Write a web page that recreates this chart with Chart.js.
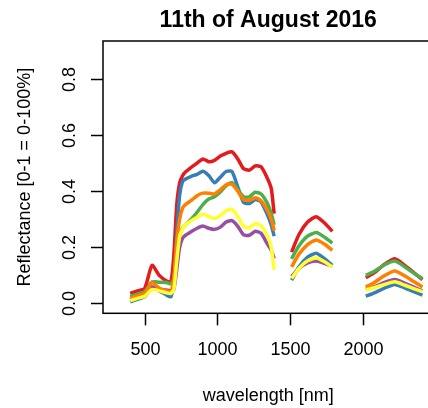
<!DOCTYPE html>
<html>
<head>
<meta charset="utf-8">
<script src="https://cdn.jsdelivr.net/npm/chart.js@4"></script>
<style>
  html, body { margin: 0; padding: 0; background: #fff; overflow: hidden; }
  canvas { display: block; }
</style>
</head>
<body>
<canvas id="chart" width="460" height="408"></canvas>
<script>
// wavelengths [nm]; 1450 and 1900 are the water-band gaps (null values)
const wavelengths = [400, 450, 500, 550, 600, 650, 680, 700, 720, 740, 760, 780, 820, 860, 900, 940, 980, 1020, 1060, 1100, 1140, 1180, 1220, 1260, 1300, 1340, 1370, 1390,
  1450,
  1510, 1560, 1620, 1680, 1740, 1790,
  1900,
  2020, 2080, 2150, 2220, 2290, 2350, 2410]

const red = [0.036, 0.045, 0.054, 0.136, 0.10, 0.08, 0.077, 0.17, 0.35, 0.43, 0.455, 0.468, 0.485, 0.50, 0.515, 0.505, 0.51, 0.525, 0.535, 0.54, 0.515, 0.48, 0.475, 0.49, 0.487, 0.45, 0.41, 0.32,
  null,
  0.183, 0.245, 0.29, 0.309, 0.285, 0.257,
  null,
  0.092, 0.11, 0.14, 0.159, 0.135, 0.11, 0.085]
const blue = [0.006, 0.015, 0.024, 0.057, 0.045, 0.03, 0.024, 0.07, 0.25, 0.385, 0.435, 0.443, 0.453, 0.46, 0.471, 0.456, 0.43, 0.45, 0.47, 0.47, 0.415, 0.36, 0.356, 0.37, 0.362, 0.32, 0.28, 0.24,
  null,
  0.083, 0.13, 0.165, 0.179, 0.158, 0.136,
  null,
  0.026, 0.038, 0.055, 0.068, 0.055, 0.042, 0.03]
const green = [0.024, 0.033, 0.042, 0.077, 0.076, 0.075, 0.07, 0.09, 0.18, 0.245, 0.268, 0.28, 0.30, 0.325, 0.352, 0.372, 0.38, 0.397, 0.42, 0.43, 0.405, 0.38, 0.38, 0.396, 0.39, 0.36, 0.32, 0.28,
  null,
  0.159, 0.205, 0.24, 0.253, 0.235, 0.215,
  null,
  0.10, 0.115, 0.138, 0.151, 0.13, 0.108, 0.089]
const purple = [0.015, 0.022, 0.03, 0.059, 0.052, 0.048, 0.046, 0.05, 0.12, 0.20, 0.232, 0.243, 0.256, 0.268, 0.276, 0.268, 0.264, 0.272, 0.29, 0.295, 0.275, 0.244, 0.243, 0.257, 0.25, 0.215, 0.19, 0.16,
  null,
  0.095, 0.125, 0.145, 0.151, 0.142, 0.132,
  null,
  0.05, 0.06, 0.075, 0.085, 0.072, 0.058, 0.045]
const orange = [0.018, 0.027, 0.036, 0.075, 0.054, 0.045, 0.042, 0.09, 0.22, 0.30, 0.34, 0.352, 0.367, 0.384, 0.393, 0.393, 0.39, 0.405, 0.423, 0.425, 0.40, 0.37, 0.367, 0.377, 0.366, 0.335, 0.30, 0.26,
  null,
  0.13, 0.175, 0.21, 0.226, 0.21, 0.189,
  null,
  0.059, 0.075, 0.10, 0.116, 0.098, 0.078, 0.059]
const yellow = [0.01, 0.018, 0.026, 0.05, 0.045, 0.038, 0.036, 0.05, 0.15, 0.24, 0.265, 0.28, 0.295, 0.307, 0.318, 0.31, 0.302, 0.313, 0.33, 0.335, 0.31, 0.274, 0.27, 0.285, 0.277, 0.245, 0.20, 0.12,
  null,
  0.089, 0.125, 0.152, 0.162, 0.148, 0.13,
  null,
  0.048, 0.057, 0.068, 0.077, 0.065, 0.053, 0.042]

const xTicks = [500, 1000, 1500, 2000]
const yTicks = [0.0, 0.2, 0.4, 0.6, 0.8]

const series = [
  { values: red, color: "#E41A1C" },
  { values: blue, color: "#377EB8" },
  { values: green, color: "#4DAF4A" },
  { values: purple, color: "#984EA3" },
  { values: orange, color: "#FF7F00" },
  { values: yellow, color: "#FFFF33" },
]

const FONT = "Liberation Sans, Arial, sans-serif"

// R-style box, axes and labels
const rAxes = {
  id: "rAxes",
  afterDraw(chart) {
    const { ctx, chartArea: a, scales } = chart
    const x = scales.x
    const y = scales.y
    ctx.save()
    ctx.strokeStyle = "#000"
    ctx.fillStyle = "#000"
    ctx.lineWidth = 1.5
    ctx.strokeRect(a.left, a.top, a.right - a.left, a.bottom - a.top)

    // x axis
    ctx.font = "18px " + FONT
    ctx.textAlign = "center"
    ctx.textBaseline = "middle"
    xTicks.forEach((t) => {
      const px = Math.round(x.getPixelForValue(t)) + 0.5
      ctx.beginPath()
      ctx.moveTo(px, a.bottom)
      ctx.lineTo(px, a.bottom + 12)
      ctx.stroke()
      ctx.fillText(String(t), px, 350)
    })

    // y axis (labels rotated, as in R)
    yTicks.forEach((t) => {
      const py = Math.round(y.getPixelForValue(t)) + 0.5
      ctx.beginPath()
      ctx.moveTo(a.left, py)
      ctx.lineTo(a.left - 12, py)
      ctx.stroke()
      ctx.save()
      ctx.translate(70, py)
      ctx.rotate(-Math.PI / 2)
      ctx.fillText(t.toFixed(1), 0, 0)
      ctx.restore()
    })

    const midX = (a.left + a.right) / 2
    const midY = (a.top + a.bottom) / 2
    ctx.fillText("wavelength [nm]", midX, 396)
    ctx.save()
    ctx.translate(25, midY)
    ctx.rotate(-Math.PI / 2)
    ctx.fillText("Reflectance [0-1 = 0-100%]", 0, 0)
    ctx.restore()

    ctx.font = "bold 23px " + FONT
    ctx.fillText("11th of August 2016", midX, 21)
    ctx.restore()
  },
}

const ctx = document.getElementById("chart").getContext("2d")
new Chart(ctx, {
  type: "line",
  data: {
    labels: wavelengths,
    datasets: series.map((s, i) => ({
      data: s.values.map((v, j) => ({ x: wavelengths[j], y: v })),
      borderColor: s.color,
      backgroundColor: s.color,
      borderWidth: 3.5,
      borderJoinStyle: "round",
      pointRadius: 0,
      tension: 0.2,
      spanGaps: false,
      fill: false,
      order: series.length - i,
    })),
  },
  options: {
    responsive: false,
    animation: false,
    devicePixelRatio: 1,
    layout: { padding: { left: 103, top: 41, right: 26.5, bottom: 94.7 } },
    scales: {
      x: { type: "linear", min: 213, max: 2486, display: false },
      y: { min: -0.035, max: 0.935, display: false },
    },
    plugins: {
      legend: { display: false },
      tooltip: { enabled: false },
      title: { display: false },
    },
  },
  plugins: [rAxes],
})
</script>
</body>
</html>
